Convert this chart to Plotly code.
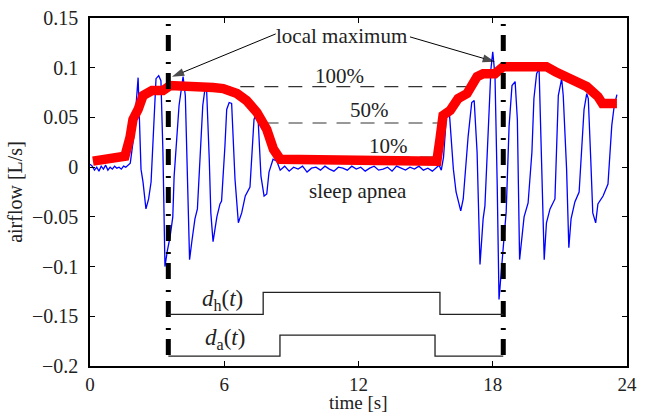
import plotly.graph_objects as go

# ---------------- data ----------------
flow_t = [0.0, 0.1, 0.2, 0.3, 0.4, 0.5, 0.6, 0.7, 0.8, 0.9, 1.0, 1.1, 1.2, 1.3, 1.4, 1.5, 1.6, 1.7,
          1.8, 1.95, 2.1, 2.15, 2.28, 2.37, 2.5, 2.62, 2.73, 2.86, 2.95, 3.07, 3.17, 3.26, 3.35, 3.45,
          3.58, 3.7, 3.76, 3.98, 4.16, 4.26, 4.38, 4.45, 4.55, 4.69, 4.8, 4.92, 5.04, 5.14, 5.21, 5.33,
          5.4, 5.5, 5.67, 5.81, 5.88, 6.03, 6.11, 6.22, 6.33, 6.48, 6.63, 6.78, 6.94, 7.15, 7.23, 7.33,
          7.45, 7.52, 7.64, 7.78, 7.9, 8.0, 8.18, 8.35,
          8.5, 8.7, 8.9, 9.1, 9.3, 9.5, 9.7, 9.9, 10.1, 10.3, 10.5, 10.7, 10.9, 11.1, 11.3, 11.5, 11.7,
          11.9, 12.1, 12.3, 12.5, 12.7, 12.9, 13.1, 13.3, 13.5, 13.7, 13.9, 14.1, 14.3, 14.5, 14.7, 14.9,
          15.1, 15.3, 15.5,
          15.6, 15.7, 15.8, 15.95, 16.05, 16.24, 16.36, 16.57, 16.68, 16.9, 17.06, 17.17, 17.3, 17.43,
          17.57, 17.65, 17.8, 17.92, 18.0, 18.1, 18.2, 18.28, 18.45, 18.6, 18.73, 18.86, 19.0, 19.1,
          19.2, 19.4, 19.58, 19.75, 19.84, 19.96, 20.07, 20.2, 20.3, 20.4, 20.56, 20.78, 20.93, 21.08,
          21.15, 21.3, 21.4, 21.5, 21.67, 21.86, 21.98, 22.08, 22.2, 22.27, 22.38, 22.47, 22.6, 22.7,
          22.93, 23.15, 23.32, 23.43, 23.55]
flow_v = [0.003, 0.001, -0.003, 0.000, -0.004, 0.001, -0.002, 0.002, -0.003, 0.000, -0.002, 0.001,
          -0.001, 0.000, -0.002, 0.001, 0.000, 0.002,
          0.004, 0.030, 0.075, 0.090, -0.002, -0.015, -0.042, -0.032, -0.015, 0.048, 0.089, 0.092, 0.087,
          0.015, -0.100, -0.085, -0.070, -0.050, -0.009, 0.062, 0.091, 0.072, -0.052, -0.093, -0.075,
          -0.052, -0.042, 0.015, 0.062, 0.079, 0.079, 0.008, -0.046, -0.075, -0.050, -0.037, -0.034,
          0.021, 0.058, 0.065, 0.064, -0.012, -0.056, -0.046, -0.029, -0.020, 0.008, 0.048, 0.055, 0.045,
          -0.009, -0.029, -0.027, -0.005, 0.008, 0.006,
          -0.003, 0.001, -0.004, 0.000, -0.002, 0.001, -0.005, -0.001, 0.000, -0.003, 0.001, -0.002,
          -0.004, 0.000, -0.001, -0.003, 0.001, -0.002, 0.000, -0.004, -0.001, 0.001, -0.003, -0.002,
          0.000, -0.004, 0.001, -0.001, -0.003, 0.000, -0.002, 0.001, -0.003, -0.001, -0.004, 0.000,
          0.002, -0.003, 0.010, 0.058, 0.058, -0.002, -0.025, -0.044, -0.032, 0.031, 0.065, 0.067, 0.015,
          -0.098, -0.052, -0.039, 0.048, 0.099, 0.116, 0.092, -0.019, -0.133, -0.086, -0.045, 0.041,
          0.082, 0.086, 0.048, -0.093, -0.050, -0.036, 0.015, 0.069, 0.094, 0.099, -0.002, -0.093,
          -0.056, -0.042, -0.032, 0.072, 0.089, 0.072, -0.002, -0.081, -0.052, -0.035, -0.025, 0.015,
          0.058, 0.074, 0.069, 0.008, -0.046, -0.056, -0.037, -0.029, -0.017, 0.042, 0.062, 0.073]

env_t = [0.13, 1.56, 1.79, 1.92, 2.15, 2.37, 2.77, 3.26, 3.58, 5.05, 5.5, 5.95, 6.57, 7.0, 7.46, 7.9,
         8.2, 8.5, 15.5, 15.64, 15.78, 16.1, 16.45, 16.85, 17.3, 17.57, 18.1, 18.47, 20.4, 20.8, 21.3,
         21.8, 22.2, 22.7, 22.9, 23.55]
env_v = [0.006, 0.011, 0.030, 0.048, 0.058, 0.072, 0.077, 0.077, 0.082, 0.082, 0.080, 0.079, 0.074,
         0.067, 0.055, 0.038, 0.018, 0.008, 0.006, 0.028, 0.052, 0.057, 0.069, 0.074, 0.091, 0.094,
         0.094, 0.101, 0.101, 0.096, 0.091, 0.086, 0.081, 0.071, 0.064, 0.064]

level_names = ["100%", "50%", "10%"]
level_values = [0.081, 0.0444, 0.0101]
level_start = [3.5, 7.8, 8.3]
level_end = [16.8, 15.7, 15.45]

event_times = [3.5, 18.47]

# local-maximum arrows: (tail at label, head at maximum)
arrow_t = [[8.3, 3.66], [14.3, 18.1]]
arrow_v = [[0.134, 0.0908], [0.131, 0.106]]

dh_t = [3.5, 7.74, 15.64, 18.47]
dh_v = [-0.148, -0.126, -0.148, -0.148]
da_t = [3.5, 8.49, 15.42, 18.47]
da_v = [-0.19, -0.169, -0.19, -0.19]

x_ticks = [0, 6, 12, 18, 24]
y_ticks = [-0.2, -0.15, -0.1, -0.05, 0, 0.05, 0.1, 0.15]
y_ticktext = ["\u22120.2", "\u22120.15", "\u22120.1", "\u22120.05", "0", "0.05", "0.1", "0.15"]

FONT = "Liberation Serif"
TXT = "#222222"

fig = go.Figure()

# dashed level lines
for name, val, s, e in zip(level_names, level_values, level_start, level_end):
    fig.add_trace(go.Scatter(x=[s, e], y=[val, val], mode="lines",
                             line=dict(color="#333333", width=1.2, dash="14px,10px"),
                             hoverinfo="skip", showlegend=False))

# airflow
fig.add_trace(go.Scatter(x=flow_t, y=flow_v, mode="lines",
                         line=dict(color="#0000ff", width=1.3), showlegend=False))
# envelope
fig.add_trace(go.Scatter(x=env_t, y=env_v, mode="lines",
                         line=dict(color="#ff0000", width=9.5), showlegend=False))

# event lines
for et in event_times:
    fig.add_trace(go.Scatter(x=[et, et], y=[y_ticks[-1], y_ticks[0]], mode="lines",
                             line=dict(color="black", width=5, dash="0px,6px,2px,9px,16px,5px"),
                             showlegend=False))

# arrows to local maxima
for at, av in zip(arrow_t, arrow_v):
    fig.add_trace(go.Scatter(x=at, y=av, mode="lines+markers",
                             line=dict(color="black", width=1),
                             marker=dict(symbol="arrow", angleref="previous", size=[0, 13],
                                         color="black", line=dict(width=0)),
                             showlegend=False))

# step signals
fig.add_trace(go.Scatter(x=dh_t, y=dh_v, mode="lines", line_shape="hv",
                         line=dict(color="#222222", width=1.3), showlegend=False))
fig.add_trace(go.Scatter(x=da_t, y=da_v, mode="lines", line_shape="hv",
                         line=dict(color="#222222", width=1.3), showlegend=False))

ann_font = dict(family=FONT, size=21, color=TXT)
annotations = [
    dict(x=11.22, y=0.132, text="local maximum", showarrow=False, font=ann_font),
    dict(x=11.17, y=0.0918, text="100%", showarrow=False, font=ann_font),
    dict(x=12.51, y=0.0575, text="50%", showarrow=False, font=ann_font),
    dict(x=13.32, y=0.021, text="10%", showarrow=False, font=ann_font),
    dict(x=11.98, y=-0.024, text="sleep apnea", showarrow=False, font=ann_font),
    dict(x=5.9, y=-0.134, text="<i>d</i><sub>h</sub>(<i>t</i>)", showarrow=False,
         font=dict(family=FONT, size=23, color=TXT)),
    dict(x=6.03, y=-0.173, text="<i>d</i><sub>a</sub>(<i>t</i>)", showarrow=False,
         font=dict(family=FONT, size=23, color=TXT)),
    # x-axis title placed at the bottom edge of the canvas
    dict(x=0.5, xref="paper", y=-0.138, yref="paper", yanchor="bottom", borderpad=0,
         text="time [s]", showarrow=False, font=dict(family=FONT, size=19, color=TXT)),
]

axis_common = dict(showline=True, linecolor="black", linewidth=1.5, mirror="allticks",
                   ticks="inside", ticklen=5, tickcolor="black", showgrid=False, zeroline=False,
                   automargin=False)

fig.update_layout(
    width=649, height=414,
    margin=dict(l=90, r=22, t=18, b=48),
    paper_bgcolor="white", plot_bgcolor="white",
    showlegend=False,
    annotations=annotations,
    xaxis=dict(range=[0, 24], tickvals=x_ticks, ticklabelstandoff=0,
               tickfont=dict(family=FONT, size=19, color=TXT),
               **axis_common),
    yaxis=dict(range=[-0.2, 0.15], tickvals=y_ticks, ticktext=y_ticktext, ticklabelstandoff=6,
               tickfont=dict(family=FONT, size=20, color=TXT),
               title=dict(text="airflow [L/s]", font=dict(family=FONT, size=20, color=TXT), standoff=4),
               **axis_common),
)

fig.write_html("out.html")
